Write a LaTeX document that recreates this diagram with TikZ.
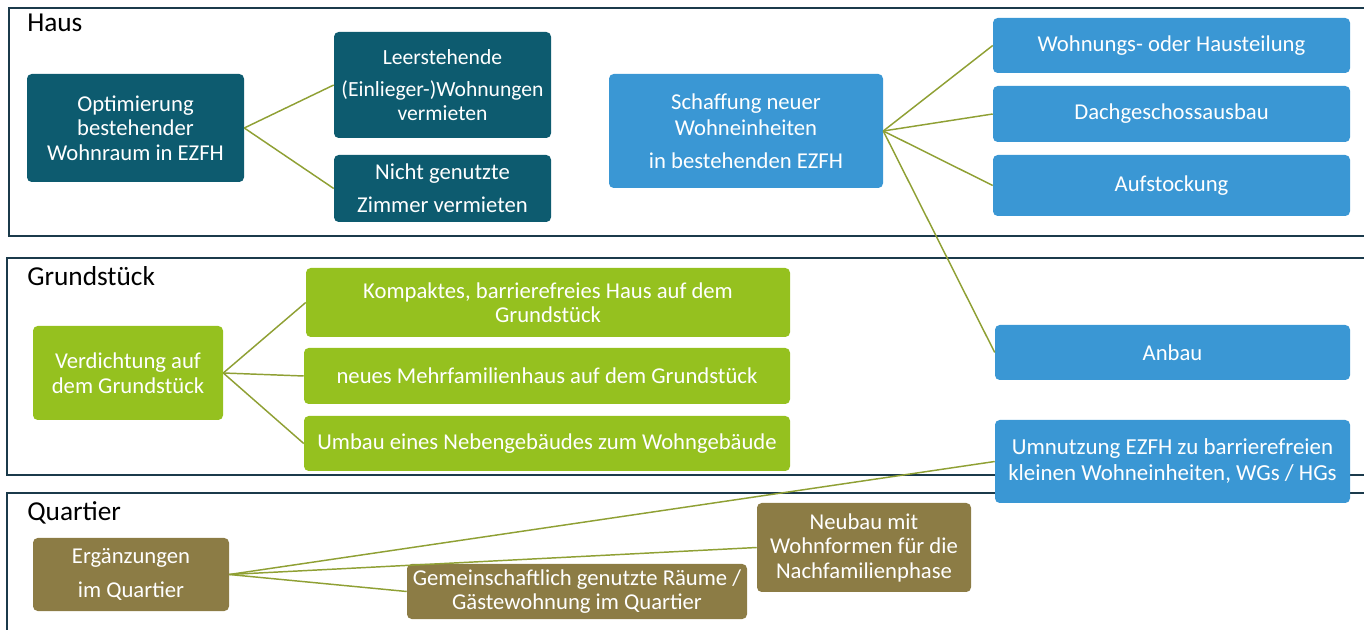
\documentclass[tikz,border=0pt]{standalone}
\usepackage{fontspec}
\setmainfont{Carlito}
\usetikzlibrary{positioning}
\definecolor{hausc}{HTML}{0D5B6F}
\definecolor{bluec}{HTML}{3A97D4}
\definecolor{greenc}{HTML}{95C11F}
\definecolor{olivec}{HTML}{8C7C45}
\definecolor{linkc}{HTML}{8FA034}
\definecolor{framec}{HTML}{1B3A4B}
\tikzset{
  box/.style={rectangle, rounded corners=3.5pt, text=white, align=center, inner sep=0pt,
    font=\fontsize{17}{18.4}\selectfont},
  hbox/.style={box, fill=hausc},
  bbox/.style={box, fill=bluec},
  gbox/.style={box, fill=greenc},
  obox/.style={box, fill=olivec},
  frame/.style={draw=framec, line width=1.5pt},
  seclabel/.style={anchor=base west, inner sep=0pt, font=\fontsize{20.5}{23}\selectfont},
  link/.style={draw=linkc, line width=1.1pt},
}
\begin{document}
\begin{tikzpicture}[x=0.75pt,y=-0.75pt]
\useasboundingbox (0,0) rectangle (1364,630);
\clip (0,0) rectangle (1364,630);
% frames
\draw[frame] (9,8) rectangle (1372,236);
\draw[frame] (7,258) rectangle (1372,475);
\draw[frame] (7,493) rectangle (1372,640);
\node[seclabel] (lhaus) at (27,32) {Haus};
\node[seclabel] (lgrund) at (27,286) {Grundstück};
\node[seclabel] (lquart) at (27,521) {Quartier};
% Haus
\node[hbox, minimum width=217*0.75pt, minimum height=108*0.75pt] (opt) at (135.5,128) {Optimierung\\bestehender\\Wohnraum in EZFH};
\node[hbox, minimum width=217*0.75pt, minimum height=106*0.75pt, font=\fontsize{16.2}{18.4}\selectfont] (leer) at (442.5,85) {Leerstehende\\[5.6pt](Einlieger-)Wohnungen\\vermieten};
\node[hbox, minimum width=217*0.75pt, minimum height=67*0.75pt] (nicht) at (442.5,188.5) {Nicht genutzte\\[6.4pt]Zimmer vermieten};
\node[bbox, minimum width=274*0.75pt, minimum height=114*0.75pt] (schaff) at (746,131) {Schaffung neuer\\[1.1pt]Wohneinheiten\\[6.4pt]in bestehenden EZFH};
\node[bbox, minimum width=357*0.75pt, minimum height=55*0.75pt] (wohn) at (1171.5,45.5) {Wohnungs- oder Hausteilung};
\node[bbox, minimum width=357*0.75pt, minimum height=56*0.75pt] (dach) at (1171.5,114) {Dachgeschossausbau};
\node[bbox, minimum width=357*0.75pt, minimum height=61*0.75pt] (aufst) at (1171.5,185.5) {Aufstockung};
\node[bbox, minimum width=355*0.75pt, minimum height=55*0.75pt] (anbau) at (1172.5,352.5) {Anbau};
\node[bbox, minimum width=355*0.75pt, minimum height=83*0.75pt, font=\fontsize{17.2}{19.5}\selectfont] (umn) at (1172.5,461.5) {Umnutzung EZFH zu barrierefreien\\kleinen Wohneinheiten, WGs / HGs};
% Grundstueck
\node[gbox, minimum width=190*0.75pt, minimum height=94*0.75pt] (verd) at (128,373) {Verdichtung auf\\dem Grundstück};
\node[gbox, minimum width=484*0.75pt, minimum height=69*0.75pt] (komp) at (548,302.5) {Kompaktes, barrierefreies Haus auf dem\\Grundstück};
\node[gbox, minimum width=486*0.75pt, minimum height=56*0.75pt] (neues) at (547,376) {neues Mehrfamilienhaus auf dem Grundstück};
\node[gbox, minimum width=486*0.75pt, minimum height=55*0.75pt] (umbau) at (547,443.5) {Umbau eines Nebengebäudes zum Wohngebäude};
% Quartier
\node[obox, minimum width=196*0.75pt, minimum height=73*0.75pt] (erg) at (131,574.5) {Ergänzungen\\[7.1pt]im Quartier};
\node[obox, minimum width=340*0.75pt, minimum height=55*0.75pt] (gem) at (577,591.5) {Gemeinschaftlich genutzte Räume /\\Gästewohnung im Quartier};
\node[obox, minimum width=214*0.75pt, minimum height=89*0.75pt] (neubau) at (864,547.5) {Neubau mit\\Wohnformen für die\\Nachfamilienphase};
% connectors
\draw[link] (opt.east) -- (leer.west);
\draw[link] (opt.east) -- (nicht.west);
\draw[link] (schaff.east) -- (wohn.west);
\draw[link] (schaff.east) -- (dach.west);
\draw[link] (schaff.east) -- (aufst.west);
\draw[link] (schaff.east) -- (anbau.west);
\draw[link] (verd.east) -- (komp.west);
\draw[link] (verd.east) -- (neues.west);
\draw[link] (verd.east) -- (umbau.west);
\draw[link] (erg.east) -- (umn.west);
\draw[link] (erg.east) -- (neubau.west);
\draw[link] (erg.east) -- (gem.west);
\end{tikzpicture}
\end{document}
